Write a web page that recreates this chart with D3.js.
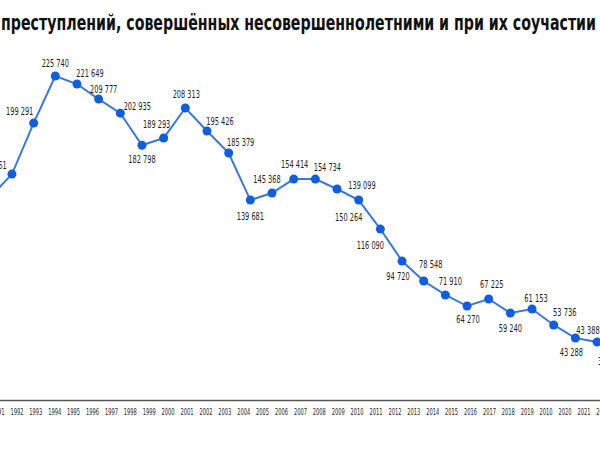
<!DOCTYPE html>
<html>
<head>
<meta charset="utf-8">
<script src="https://cdn.jsdelivr.net/npm/d3@7"></script>
<style>
  body { margin: 0; background: #fff; }
  svg { display: block; }
  .title { font-family: "DejaVu Sans Condensed", "DejaVu Sans", sans-serif; font-weight: bold; fill: #111; }
  .lbl { font-family: "DejaVu Sans Condensed", "DejaVu Sans", sans-serif; font-size: 9.8px; fill: #1e1e1e; }
  .axis text { font-family: "DejaVu Sans Condensed", "DejaVu Sans", sans-serif; font-size: 8.6px; fill: #1e1e1e; }
</style>
</head>
<body>
<div id="chart"></div>
<script>
// values read off the point positions (the printed labels do not always agree)
const values = [141700, 157700, 193200, 226000, 220400, 209900, 200100, 177800, 182800, 203700,
  187700, 172400, 139600, 144500, 154200, 154200, 147300, 139600, 119400, 97100,
  83200, 73500, 65800, 70700, 60900, 63700, 52600, 43500, 40700, 35200];

// the numbers printed next to each point
const pointLabels = ["", "157 561", "199 291", "225 740", "221 649", "209 777", "202 935", "182 798", "189 293", "208 313",
  "195 426", "185 379", "139 681", "145 368", "154 414", "154 734", "139 099", "150 264", "116 090", "94 720",
  "78 548", "71 910", "64 270", "67 225", "59 240", "61 153", "53 736", "43 288", "43 388", "35 214"];

// label offset from its point [dx, dy]
const labelOffsets = [[0, 0], [-19, -9], [-14, -12], [0, -13], [13, -11], [5, -10], [17, -7], [0, 14], [-7, -14], [1, -14],
  [13, -9], [12, -10], [0, 16], [-5, -14], [1, -15], [12, -12], [25, -4], [-10, 17], [-10, 16], [-4, 15],
  [7, -17], [5, -13], [1, 13], [3, -14], [0, 15], [4, -11], [11, -12], [-4, 14], [-9, -12], [-9, 12]];

const yearLabels = ["1991", "1992", "1993", "1994", "1995", "1996", "1997", "1998", "1999", "2000",
  "2001", "2002", "2003", "2004", "2005", "2006", "2007", "2008", "2009", "2010",
  "2011", "2012", "2013", "2014", "2015", "2016", "2017", "2018", "2019", "2010",
  "2020", "2021", "2022"];

const titleText = "преступлений, совершённых несовершеннолетними и при их соучастии";

const width = 600, height = 450;

const svg = d3.select("#chart").append("svg")
  .attr("width", width)
  .attr("height", height);

// points and axis labels are spaced differently in the original
const xScale = d3.scaleLinear().domain([0, values.length - 1]).range([-9.7, -9.7 + 29 * 21.67]);
const yScale = d3.scaleLinear().domain([0, 226000]).range([400.5, 76]);
const xLabels = d3.scalePoint().domain(d3.range(yearLabels.length)).range([-2.5, -2.5 + 32 * 18.9]);

// the original uses a narrow font, so squeeze the text to its width
svg.append("text")
  .attr("class", "title")
  .attr("x", 1)
  .attr("y", 30)
  .attr("font-size", 21)
  .attr("textLength", 595)
  .attr("lengthAdjust", "spacingAndGlyphs")
  .text(titleText);

const xAxis = d3.axisBottom(xLabels)
  .tickSize(0)
  .tickSizeOuter(0)
  .tickPadding(9)
  .tickFormat(i => yearLabels[i]);

const axisG = svg.append("g")
  .attr("class", "axis")
  .attr("transform", "translate(0, 400)")
  .call(xAxis);

axisG.select(".domain")
  .attr("stroke", "#555")
  .attr("stroke-width", 1.6);

axisG.selectAll(".tick text")
  .attr("textLength", 13)
  .attr("lengthAdjust", "spacingAndGlyphs");

const line = d3.line()
  .x((d, i) => xScale(i))
  .y(d => yScale(d));

svg.append("path")
  .datum(values)
  .attr("fill", "none")
  .attr("stroke", "#3a78dc")
  .attr("stroke-width", 2)
  .attr("d", line);

svg.selectAll(".dot")
  .data(values)
  .enter()
  .append("circle")
  .attr("class", "dot")
  .attr("cx", (d, i) => xScale(i))
  .attr("cy", d => yScale(d))
  .attr("r", 4.5)
  .attr("fill", "#0f5ee0");

svg.selectAll(".lbl")
  .data(values)
  .enter()
  .append("text")
  .attr("class", "lbl")
  .attr("text-anchor", "middle")
  .attr("dominant-baseline", "central")
  .attr("x", (d, i) => xScale(i) + labelOffsets[i][0])
  .attr("y", (d, i) => yScale(d) + labelOffsets[i][1])
  .attr("textLength", (d, i) => pointLabels[i].length * 3.9)
  .attr("lengthAdjust", "spacingAndGlyphs")
  .text((d, i) => pointLabels[i]);
</script>
</body>
</html>
